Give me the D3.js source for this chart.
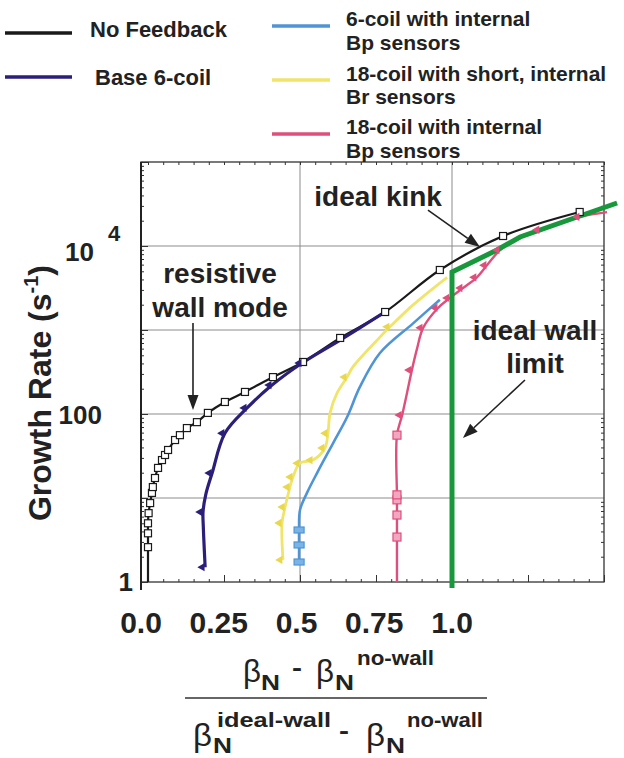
<!DOCTYPE html>
<html><head><meta charset="utf-8">
<script src="https://cdn.jsdelivr.net/npm/d3@7"></script>
<style>body{margin:0;background:#fff} svg{display:block}</style>
</head><body>
<svg id="c" width="624" height="758"></svg>
<script>
// ---------------- data ----------------
const xTickValues = [0, 0.25, 0.5, 0.75, 1.0];
const xTickLabels = ["0.0", "0.25", "0.5", "0.75", "1.0"];
const yTickValues = [1, 100, 10000];
const yTickLabels = ["1", "100", "10^4"];
const legendNames = ["No Feedback", "Base 6-coil", "6-coil with internal|Bp sensors",
  "18-coil with short, internal|Br sensors", "18-coil with internal|Bp sensors"];

const noFeedback = [[0.0,1.0],[0.0,2.6],[0.0,3.8],[0.0,5.0],[0.002,6.6],[0.007,8.7],[0.013,11.5],
  [0.016,13.5],[0.023,17.3],[0.033,22.8],[0.046,28.3],[0.056,32.5],[0.066,37.3],[0.089,49],
  [0.105,56],[0.128,68],[0.161,80],[0.197,103],[0.253,139],[0.319,183],[0.411,275],[0.51,416],
  [0.632,804],[0.78,1638],[0.96,5180],[1.168,13150],[1.42,25400]];
const noFeedbackMarkers = noFeedback.slice(1);

const base6 = [[0.188,1.5],[0.182,4.5],[0.181,6.8],[0.19,11],[0.211,19.8],[0.253,59],[0.326,118],
  [0.408,221],[0.507,405],[0.632,760],[0.78,1640]];
const base6Markers = [[0.188,1.5],[0.181,6.8],[0.211,19.8],[0.253,59],[0.326,118],[0.408,221],[0.507,405]];

const coil6Bp = [[0.497,1.73],[0.497,2.76],[0.497,4.16],[0.5,7.2],[0.523,11.5],[0.556,19.8],[0.609,45],
  [0.655,92],[0.697,210],[0.763,532],[0.872,1200],[0.96,2290]];
const coil6BpMarkers = [[0.497,1.73],[0.497,2.76],[0.497,4.16]];

const coil18Br = [[0.444,1.83],[0.441,5.04],[0.451,7.8],[0.467,13.5],[0.477,17.8],[0.5,26],[0.543,28.3],
  [0.582,39.4],[0.592,59],[0.599,103],[0.622,178],[0.655,275],[0.674,364],[0.763,823],[0.796,1090],
  [0.872,1990],[0.984,4240]];
const coil18BrMarkers = [[0.444,1.83],[0.441,5.04],[0.451,7.8],[0.467,13.5],[0.477,17.8],[0.5,26],
  [0.543,28.3],[0.582,39.4],[0.592,59],[0.655,275],[0.796,1090]];

const coil18Bp = [[0.819,1.0],[0.819,3.43],[0.819,6.27],[0.819,10.3],[0.819,56],[0.836,97],[0.852,178],
  [0.868,333],[0.885,600],[0.905,1060],[0.954,1830],[0.993,2410],[1.036,3160],[1.082,4240],
  [1.115,5900],[1.158,8960],[1.2,11500],[1.289,15600],[1.421,22200],[1.51,25300]];
const coil18BpSquares = [[0.819,3.43],[0.819,6.27],[0.819,9.5],[0.819,10.9],[0.819,56]];
const coil18BpTriangles = [[0.836,97],[0.868,333],[0.905,1060],[0.954,1830],[0.993,2410],[1.036,3160],
  [1.082,4240],[1.115,5900],[1.158,8960],[1.289,15600],[1.421,22200]];

const idealWall = [[1.0,0.85],[1.0,4900],[1.148,8960],[1.224,12800],[1.543,32500]];

// ---------------- drawing ----------------
const svg = d3.select("#c");
const FONT = "'Liberation Sans', Arial, Helvetica, sans-serif";
const TXT = "#222";
const x = d3.scaleLinear().domain([0, 1.5]).range([148, 604]);
const y = d3.scaleLog().domain([1, 1e5]).range([582, 162]);
const frameL = 141, frameR = x(1.5), frameT = y(1e5), frameB = y(1);
const labelX = d3.scaleLinear().domain([0, 1]).range([141, 452]);

const colors = {black:"#1a1a1a", base:"#2b1f7a", blue:"#4f95d6", yellow:"#f1e46a", pink:"#df4f7c", green:"#18983c"};

// grid
const g = svg.append("g");
g.selectAll(".hg").data([10, 100, 1000, 10000]).join("line")
  .attr("x1", frameL).attr("x2", frameR).attr("y1", d => y(d)).attr("y2", d => y(d))
  .attr("stroke", "#8c8c8c").attr("stroke-width", 1);
g.selectAll(".vg").data([0.5, 1.0]).join("line")
  .attr("y1", frameT).attr("y2", frameB).attr("x1", d => x(d)).attr("x2", d => x(d))
  .attr("stroke", "#8c8c8c").attr("stroke-width", 1);

// frame ticks
const majorX = d3.range(0, 1.501, 0.25), minorX = d3.range(0, 1.501, 0.05);
const majorY = [1,10,100,1000,1e4,1e5];
const minorY = [];
for (let k = 0; k < 5; k++) for (let m = 2; m < 10; m++) minorY.push(m * Math.pow(10, k));
function axisStyle(sel){ sel.select(".domain").remove(); sel.selectAll("line").attr("stroke","#333").attr("stroke-width",1); }
svg.append("g").attr("transform",`translate(0,${frameB})`).call(d3.axisBottom(x).tickValues(minorX).tickSize(-3).tickFormat("")).call(axisStyle);
svg.append("g").attr("transform",`translate(0,${frameB})`).call(d3.axisBottom(x).tickValues(majorX).tickSize(-7).tickFormat("")).call(axisStyle);
svg.append("g").attr("transform",`translate(0,${frameT})`).call(d3.axisTop(x).tickValues(minorX).tickSize(-3).tickFormat("")).call(axisStyle);
svg.append("g").attr("transform",`translate(${frameL},0)`).call(d3.axisLeft(y).tickValues(minorY).tickSize(-3).tickFormat("")).call(axisStyle);
svg.append("g").attr("transform",`translate(${frameL},0)`).call(d3.axisLeft(y).tickValues(majorY).tickSize(-7).tickFormat("")).call(axisStyle);
svg.append("g").attr("transform",`translate(${frameR},0)`).call(d3.axisRight(y).tickValues(minorY).tickSize(-3).tickFormat("")).call(axisStyle);
svg.append("rect").attr("x", frameL).attr("y", frameT).attr("width", frameR - frameL).attr("height", frameB - frameT)
  .attr("fill", "none").attr("stroke", "#333").attr("stroke-width", 1.3);
svg.append("line").attr("x1", frameL).attr("x2", frameL).attr("y1", frameT).attr("y2", frameB+8)
  .attr("stroke", "#222").attr("stroke-width", 2);

// lines
const smooth = d3.line().x(d => x(d[0])).y(d => y(d[1])).curve(d3.curveCatmullRom.alpha(0.5));
const straight = d3.line().x(d => x(d[0])).y(d => y(d[1]));
const plot = svg.append("g");
plot.append("path").attr("d", smooth(noFeedback)).attr("fill","none").attr("stroke",colors.black).attr("stroke-width",2.2);
plot.append("path").attr("d", smooth(base6)).attr("fill","none").attr("stroke",colors.base).attr("stroke-width",3.2);
plot.append("path").attr("d", smooth(coil6Bp)).attr("fill","none").attr("stroke",colors.blue).attr("stroke-width",2.6);
plot.append("path").attr("d", smooth(coil18Br)).attr("fill","none").attr("stroke",colors.yellow).attr("stroke-width",2.8);
plot.append("path").attr("d", smooth(coil18Bp)).attr("fill","none").attr("stroke",colors.pink).attr("stroke-width",2.4);
plot.append("path").attr("d", straight(idealWall)).attr("fill","none").attr("stroke",colors.green).attr("stroke-width",5);

// markers
const tri = d3.symbol().type(d3.symbolTriangle).size(30);
function triangles(data, color){
  plot.selectAll(null).data(data).join("path").attr("d", tri)
    .attr("transform", d => `translate(${x(d[0])-3},${y(d[1])}) rotate(-90)`).attr("fill", color);
}
plot.selectAll(null).data(noFeedbackMarkers).join("rect")
  .attr("x", d => x(d[0]) - 3.5).attr("y", d => y(d[1]) - 3.5).attr("width", 7).attr("height", 7)
  .attr("fill", "#fff").attr("stroke", colors.black).attr("stroke-width", 1.2);
triangles(base6Markers, colors.base);
triangles(coil18BrMarkers, "#e8d84a");
triangles(coil18BpTriangles, colors.pink);
plot.selectAll(null).data(coil6BpMarkers).join("rect")
  .attr("x", d => x(d[0]) - 5).attr("y", d => y(d[1]) - 3).attr("width", 10).attr("height", 6)
  .attr("fill", "#7ab3e6").attr("stroke", colors.blue).attr("stroke-width", 1.2);
plot.selectAll(null).data(coil18BpSquares).join("rect")
  .attr("x", d => x(d[0]) - 4).attr("y", d => y(d[1]) - 4).attr("width", 8).attr("height", 8)
  .attr("fill", "#f3a6bf").attr("stroke", colors.pink).attr("stroke-width", 1.2);

// tick labels
svg.selectAll(".xl").data(xTickValues).join("text")
  .attr("x", d => labelX(d)).attr("y", 633).attr("text-anchor", "middle")
  .attr("font-family", FONT).attr("font-weight", "bold").attr("font-size", 30).attr("fill", TXT)
  .text((d, i) => xTickLabels[i]);
const yLabelRight = [133, 102, 94];
const yLabelDy = [9, 10, 15];
yTickValues.forEach((v, i) => {
  const parts = yTickLabels[i].split("^");
  svg.append("text").attr("x", yLabelRight[i]).attr("y", y(v) + yLabelDy[i])
    .attr("text-anchor", "end").attr("font-family", FONT).attr("font-weight", "bold")
    .attr("font-size", 26).attr("fill", TXT).text(parts[0]);
  if (parts[1]) {
    svg.append("text").attr("x", 108).attr("y", y(v) - 5).attr("font-family", FONT)
      .attr("font-weight", "bold").attr("font-size", 22).attr("fill", TXT).text(parts[1]);
  }
});

// y axis title
const yt = svg.append("text").attr("transform", "translate(51,393) rotate(-90)").attr("text-anchor", "middle")
  .attr("font-family", FONT).attr("font-weight", "bold").attr("font-size", 32).attr("fill", TXT);
yt.append("tspan").text("Growth Rate (s");
yt.append("tspan").attr("font-size", 20).attr("dy", -13).text("-1");
yt.append("tspan").attr("dy", 13).text(")");

// x axis title (fraction)
const BETA = "\u03B2";
const xt = svg.append("g").attr("font-family", FONT).attr("fill", TXT);
function piece(str, px, py, size, weight, len){
  const t = xt.append("text").attr("x", px).attr("y", py).attr("font-size", size)
    .attr("font-weight", weight).text(str);
  if (len) t.attr("textLength", len).attr("lengthAdjust", "spacingAndGlyphs");
  return t;
}
// numerator
piece(BETA, 243, 682, 31, "normal", 18);
piece("N", 261, 690, 22, "bold", 19);
piece("-", 292, 676, 24, "bold", 10);
piece(BETA, 316, 682, 31, "normal", 18);
piece("N", 335, 690, 22, "bold", 19);
piece("no-wall", 357, 665, 20, "bold", 77);
xt.append("line").attr("x1", 185).attr("x2", 487).attr("y1", 698).attr("y2", 698)
  .attr("stroke", "#333").attr("stroke-width", 1.5);
// denominator
piece(BETA, 193, 746, 31, "normal", 19);
piece("N", 213, 753, 22, "bold", 19);
piece("ideal-wall", 217, 727, 20, "bold", 114);
piece("-", 339, 739, 24, "bold", 10);
piece(BETA, 366, 746, 31, "normal", 19);
piece("N", 386, 753, 22, "bold", 19);
piece("no-wall", 407, 727, 20, "bold", 76);

// legend
const legendColors = [colors.black, colors.base, colors.blue, colors.yellow, colors.pink];
const legendLayout = [
  {lx1:5, lx2:72, ly:33, tx:90, ty:37, fs:22},
  {lx1:5, lx2:72, ly:77, tx:95, ty:85, fs:22},
  {lx1:272, lx2:330, ly:26, tx:346, ty:26, fs:21},
  {lx1:272, lx2:330, ly:80, tx:346, ty:80.5, fs:21},
  {lx1:272, lx2:330, ly:134, tx:346, ty:134, fs:21}
];
const leg = svg.append("g");
legendNames.forEach((name, i) => {
  const L = legendLayout[i];
  leg.append("line").attr("x1", L.lx1).attr("x2", L.lx2).attr("y1", L.ly).attr("y2", L.ly)
    .attr("stroke", legendColors[i]).attr("stroke-width", 3.5);
  const t = leg.append("text").attr("x", L.tx).attr("y", L.ty).attr("font-family", FONT)
    .attr("font-weight", "bold").attr("font-size", L.fs).attr("fill", TXT);
  name.split("|").forEach((line, j) => {
    t.append("tspan").attr("x", L.tx).attr("dy", j === 0 ? 0 : 23.6).text(line);
  });
});

// annotations
const ann = svg.append("g").attr("font-family", FONT).attr("font-weight", "bold").attr("font-size", 28)
  .attr("fill", TXT).attr("text-anchor", "middle");
function label(lines, dx, dys){
  lines.forEach((l, i) => ann.append("text").attr("x", x(dx)).attr("y", y(dys[i])).text(l));
}
label(["resistive", "wall mode"], 0.237, [3630, 1429]);
label(["ideal kink"], 0.757, [29900]);
label(["ideal wall", "limit"], 1.273, [760, 307]);
function arrow(x1, y1, x2, y2){
  const X1 = x(x1), Y1 = y(y1), X2 = x(x2), Y2 = y(y2);
  const a = Math.atan2(Y2 - Y1, X2 - X1), L = 15, W = 5.5;
  const bx = X2 - L * Math.cos(a), by = Y2 - L * Math.sin(a);
  svg.append("line").attr("x1", X1).attr("y1", Y1).attr("x2", bx).attr("y2", by)
    .attr("stroke", "#222").attr("stroke-width", 1.6);
  const px = -Math.sin(a) * W, py = Math.cos(a) * W;
  svg.append("path").attr("d", `M${X2},${Y2}L${bx+px},${by+py}L${bx-px},${by-py}Z`).attr("fill", "#222");
}
arrow(0.148, 1211, 0.148, 111.6);
arrow(0.921, 26800, 1.092, 9730);
arrow(1.24, 254, 1.036, 51.8);
</script>
</body></html>
